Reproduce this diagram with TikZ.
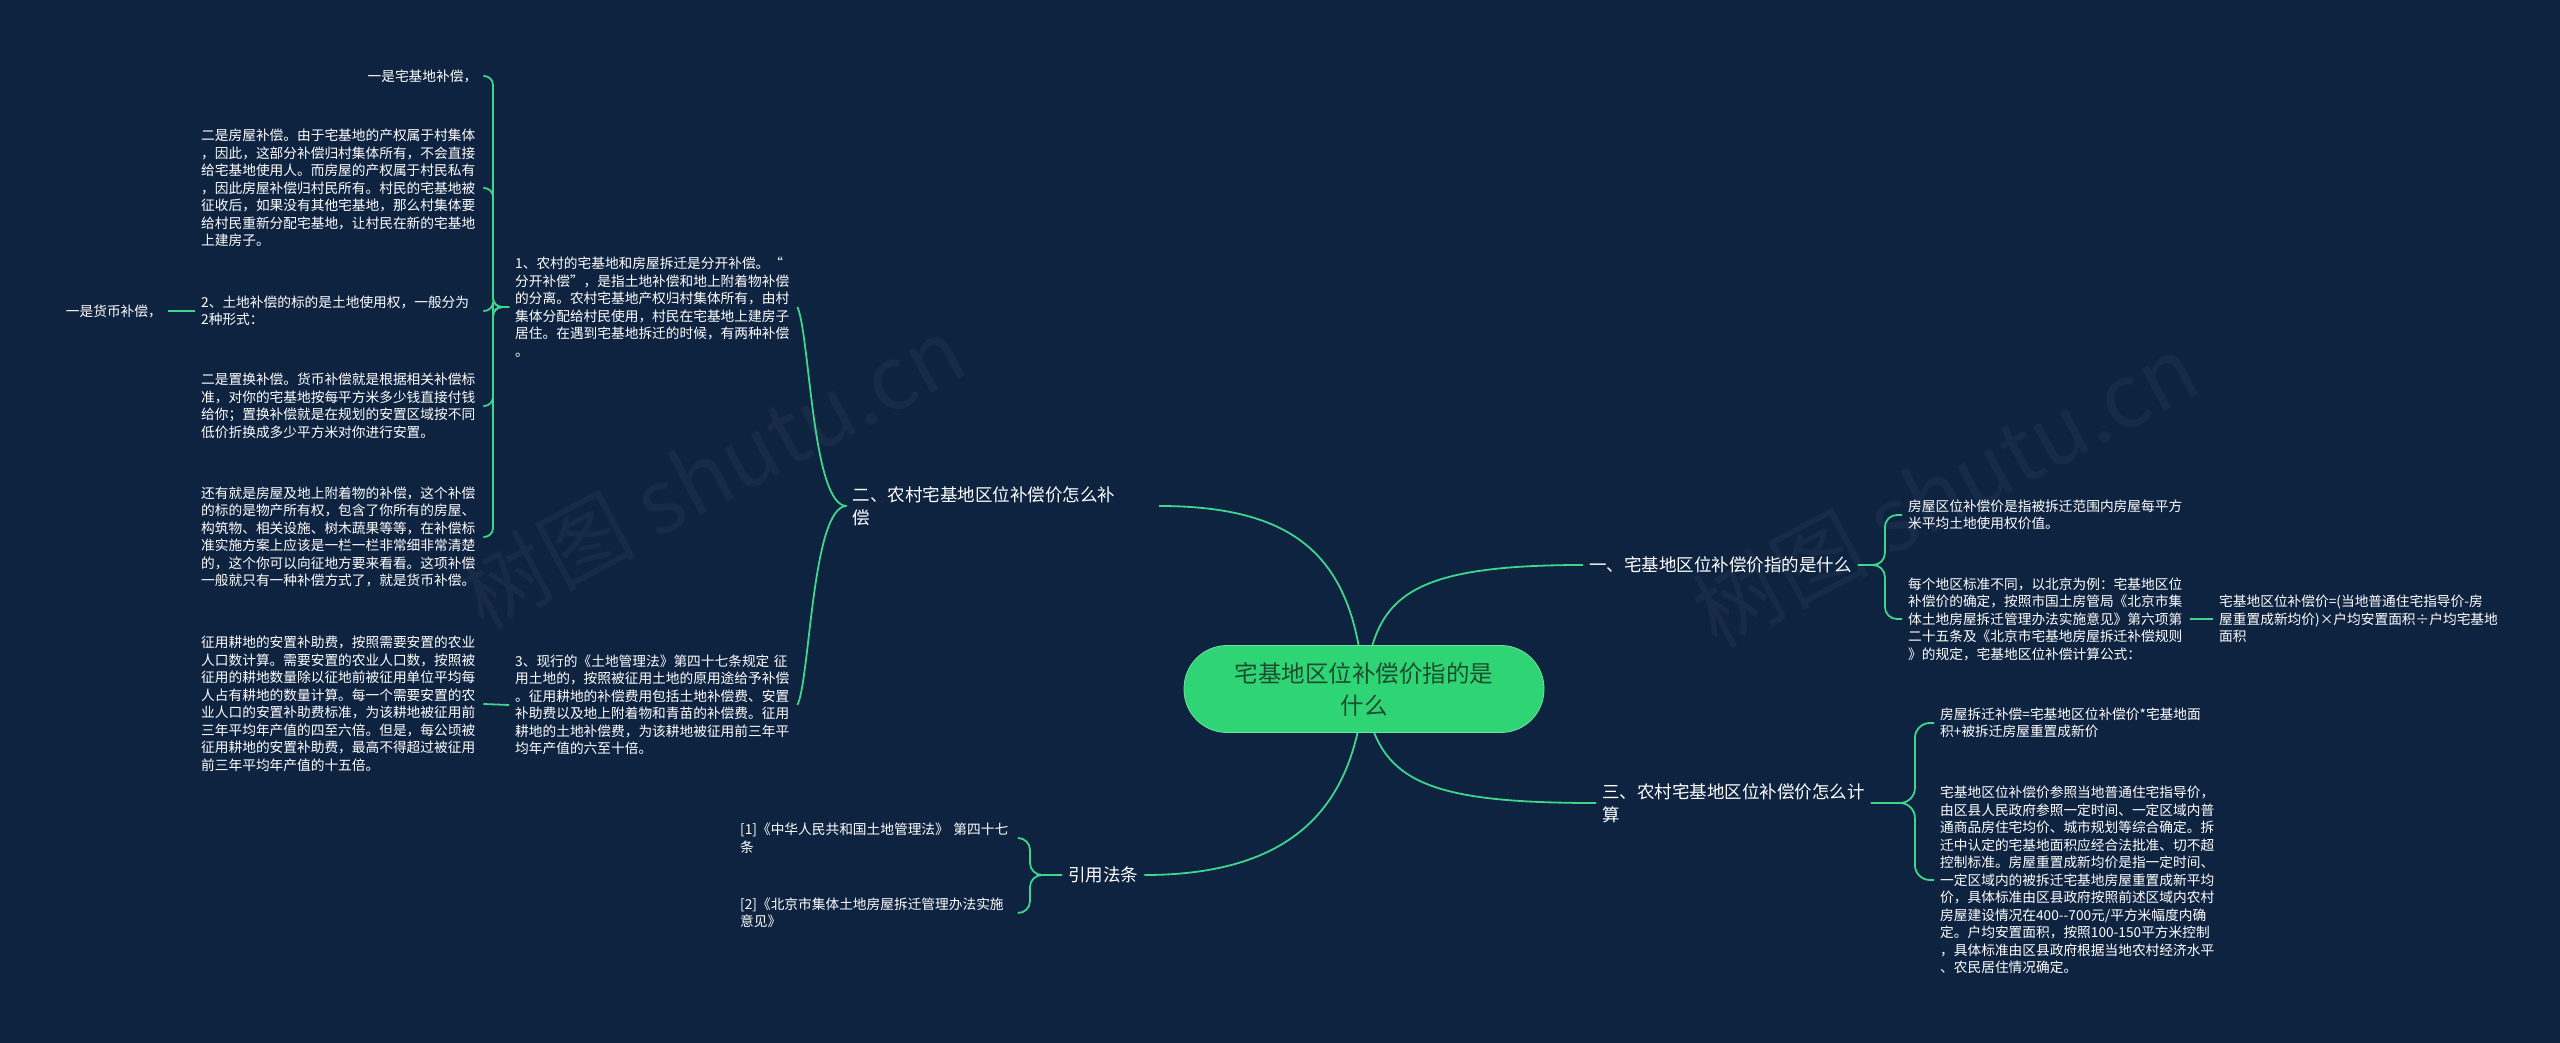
\documentclass[tikz,border=0pt]{standalone}
\usepackage{fontspec}
\setmainfont{Noto Sans CJK SC}
\usetikzlibrary{positioning}
\definecolor{bgnavy}{HTML}{0E2340}
\definecolor{linegreen}{HTML}{3DD68C}
\definecolor{rootgreen}{HTML}{2FD474}
\definecolor{roottext}{HTML}{1C4D30}
\definecolor{marknavy}{HTML}{172B48}

\begin{document}
\begin{tikzpicture}[
            x=1pt, y=-1pt,
            root/.style={fill=rootgreen, draw=rootgreen!70!white, thick, rounded corners=43pt, minimum width=360pt, minimum height=87pt, align=center, text=roottext, font=\fontsize{23.5}{32}\selectfont},
            topic/.style={text=white, inner sep=6pt, align=left, font=\fontsize{17.5}{23}\selectfont},
            note/.style={text=white, inner sep=6pt, font=\fontsize{13.7}{17.5}\selectfont},
            leaf/.style={note, align=left, text width=276pt},
            link/.style={draw=linegreen, line width=1.8pt},
            brace/.style={link, rounded corners=9pt},
            wmark/.style={text=marknavy, font=\fontsize{88}{88}\selectfont, rotate=28}
        ]

        % ======================================
        % Background and watermarks
        % ======================================
        \useasboundingbox (0,0) rectangle (2560,1043);
        \fill[bgnavy] (0,0) rectangle (2560,1043);
        \node[wmark] (W1) at (712,472) {树图 shutu.cn};
        \node[wmark] (W2) at (1945,490) {树图 shutu.cn};

        % ======================================
        % Main topics
        % ======================================
        \coordinate (hub) at (1364,689);
        \node[topic, anchor=west] (T1) at (1583,565) {一、宅基地区位补偿价指的是什么};
        \node[topic, anchor=east, text width=300pt] (T2) at (1159,506) {二、农村宅基地区位补偿价怎么补\\偿};
        \node[topic, anchor=west] (T3) at (1596,803) {三、农村宅基地区位补偿价怎么计\\算};
        \node[topic, anchor=west] (T4) at (1062,875) {引用法条};

        \draw[link] (hub) .. controls (1375,600) and (1400,565) .. (T1.west);
        \draw[link] (hub) .. controls (1355,560) and (1300,506) .. (T2.east);
        \draw[link] (hub) .. controls (1375,780) and (1420,803) .. (T3.west);
        \draw[link] (hub) .. controls (1355,800) and (1300,875) .. (T4.east);

        \node[root] (root) at (hub) {宅基地区位补偿价指的是\\什么};

        % ======================================
        % Left: 二
        % ======================================
        \node[leaf, anchor=west] (B1) at (509,307) {1、农村的宅基地和房屋拆迁是分开补偿。“\\分开补偿”，是指土地补偿和地上附着物补偿\\的分离。农村宅基地产权归村集体所有，由村\\集体分配给村民使用，村民在宅基地上建房子\\居住。在遇到宅基地拆迁的时候，有两种补偿\\。};
        \node[leaf, anchor=west] (B2) at (509,705) {3、现行的《土地管理法》第四十七条规定~征\\用土地的，按照被征用土地的原用途给予补偿\\。征用耕地的补偿费用包括土地补偿费、安置\\补助费以及地上附着物和青苗的补偿费。征用\\耕地的土地补偿费，为该耕地被征用前三年平\\均年产值的六至十倍。};

        \draw[link] (T2.west) .. controls (812,506) and (810,335) .. (B1.east);
        \draw[link] (T2.west) .. controls (812,506) and (810,680) .. (B2.east);

        \node[leaf, anchor=west, align=right] (A1) at (195,76) {一是宅基地补偿，};
        \node[leaf, anchor=west] (A2) at (195,188) {二是房屋补偿。由于宅基地的产权属于村集体\\，因此，这部分补偿归村集体所有，不会直接\\给宅基地使用人。而房屋的产权属于村民私有\\，因此房屋补偿归村民所有。村民的宅基地被\\征收后，如果没有其他宅基地，那么村集体要\\给村民重新分配宅基地，让村民在新的宅基地\\上建房子。};
        \node[leaf, anchor=west] (A3) at (195,311) {2、土地补偿的标的是土地使用权，一般分为\\2种形式：};
        \node[leaf, anchor=west] (A4) at (195,406) {二是置换补偿。货币补偿就是根据相关补偿标\\准，对你的宅基地按每平方米多少钱直接付钱\\给你；置换补偿就是在规划的安置区域按不同\\低价折换成多少平方米对你进行安置。};
        \node[leaf, anchor=west] (A5) at (195,537) {还有就是房屋及地上附着物的补偿，这个补偿\\的标的是物产所有权，包含了你所有的房屋、\\构筑物、相关设施、树木蔬果等等，在补偿标\\准实施方案上应该是一栏一栏非常细非常清楚\\的，这个你可以向征地方要来看看。这项补偿\\一般就只有一种补偿方式了，就是货币补偿。};
        \node[leaf, anchor=west] (A6) at (195,704) {征用耕地的安置补助费，按照需要安置的农业\\人口数计算。需要安置的农业人口数，按照被\\征用的耕地数量除以征地前被征用单位平均每\\人占有耕地的数量计算。每一个需要安置的农\\业人口的安置补助费标准，为该耕地被征用前\\三年平均年产值的四至六倍。但是，每公顷被\\征用耕地的安置补助费，最高不得超过被征用\\前三年平均年产值的十五倍。};
        \node[note, anchor=east] (A31) at (168,311) {一是货币补偿，};

        \foreach \leaf in {A1,A2,A3,A4,A5}
        \draw[brace] (B1.west) -- ++(-16,0) |- (\leaf.east);
        \draw[link] (B2.west) -- (A6.east);
        \draw[link] (A3.west) -- (A31.east);

        % ======================================
        % Right: 一 and 三
        % ======================================
        \node[leaf, anchor=west] (C1) at (1902,515) {房屋区位补偿价是指被拆迁范围内房屋每平方\\米平均土地使用权价值。};
        \node[leaf, anchor=west] (C2) at (1902,619) {每个地区标准不同，以北京为例：宅基地区位\\补偿价的确定，按照市国土房管局《北京市集\\体土地房屋拆迁管理办法实施意见》第六项第\\二十五条及《北京市宅基地房屋拆迁补偿规则\\》的规定，宅基地区位补偿计算公式：};
        \node[leaf, anchor=west] (D1) at (2213,619) {宅基地区位补偿价=(当地普通住宅指导价-房\\屋重置成新均价)×户均安置面积÷户均宅基地\\面积};

        \foreach \leaf in {C1,C2}
        \draw[brace, rounded corners=12pt] (T1.east) -- ++(27,0) |- (\leaf.west);
        \draw[link] (C2.east) -- (D1.west);

        \node[leaf, anchor=west] (E1) at (1934,723) {房屋拆迁补偿=宅基地区位补偿价*宅基地面\\积+被拆迁房屋重置成新价};
        \node[leaf, anchor=west] (E2) at (1934,880) {宅基地区位补偿价参照当地普通住宅指导价，\\由区县人民政府参照一定时间、一定区域内普\\通商品房住宅均价、城市规划等综合确定。拆\\迁中认定的宅基地面积应经合法批准、切不超\\控制标准。房屋重置成新均价是指一定时间、\\一定区域内的被拆迁宅基地房屋重置成新平均\\价，具体标准由区县政府按照前述区域内农村\\房屋建设情况在400-{}-700元/平方米幅度内确\\定。户均安置面积，按照100-150平方米控制\\，具体标准由区县政府根据当地农村经济水平\\、农民居住情况确定。};

        \foreach \leaf in {E1,E2}
        \draw[brace, rounded corners=15pt] (T3.east) -- ++(44,0) |- (\leaf.west);

        % ======================================
        % Bottom: 引用法条
        % ======================================
        \node[leaf, anchor=west, text width=272pt] (F1) at (734,838) {[1]《中华人民共和国土地管理法》~第四十七\\条};
        \node[leaf, anchor=west, text width=272pt] (F2) at (734,913) {[2]《北京市集体土地房屋拆迁管理办法实施\\意见》};

        \foreach \leaf in {F1,F2}
        \draw[brace, rounded corners=12pt] (T4.west) -- ++(-32,0) |- (\leaf.east);

    \end{tikzpicture}
\end{document}
